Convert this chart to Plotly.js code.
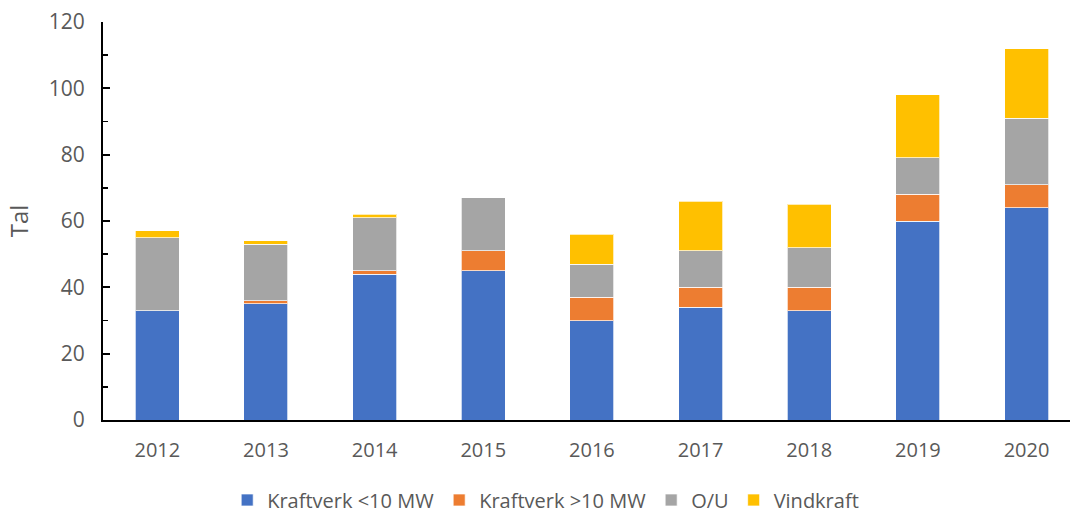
<!DOCTYPE html>
<html><head><meta charset="utf-8">
<script src="https://cdn.plot.ly/plotly-3.0.1.min.js"></script>
<style>html,body{margin:0;padding:0;background:#fff}#c{width:1070px;height:513px}</style>
</head><body><div id="c"></div>
<script>
const years = ['2012','2013','2014','2015','2016','2017','2018','2019','2020'];
const kraftverkUnder10 = [33,35,44,45,30,34,33,60,64];
const kraftverkOver10 = [0,1,1,6,7,6,7,8,7];
const ou = [22,17,16,16,10,11,12,11,20];
const vindkraft = [2,1,1,0,9,15,13,19,21];
const seriesNames = ['Kraftverk <10 MW','Kraftverk >10 MW','O/U','Vindkraft'];
const colors = ['#4472C4','#ED7D31','#A5A5A5','#FFC000'];
const yTicks = [0,20,40,60,80,100,120];

const data = [kraftverkUnder10,kraftverkOver10,ou,vindkraft].map((v,i)=>({
  type:'bar', x:years, y:v, name:seriesNames[i],
  marker:{color:colors[i], line:{color:'rgba(255,255,255,0.7)', width:1}},
  width:0.405, hoverinfo:'y+name'
}));

const font = "'Open Sans', sans-serif";
const layout = {
  width:1070, height:513,
  margin:{l:103, r:0, t:22, b:93, autoexpand:false},
  barmode:'stack',
  paper_bgcolor:'#fff', plot_bgcolor:'#fff',
  font:{family:font, color:'#595959', size:20},
  showlegend:true,
  legend:{orientation:'h', x:0.51, xanchor:'center', xref:'container', yref:'paper', y:-0.152, yanchor:'top',
    font:{size:20, color:'#595959'}, traceorder:'normal', itemwidth:30},
  xaxis:{type:'category', range:[-0.5,8.4], showline:true, linecolor:'#000', linewidth:2, automargin:false,
    ticks:'', showgrid:false, zeroline:false, tickfont:{size:20,color:'#595959'}, ticklabelstandoff:11, fixedrange:true},
  yaxis:{range:[0,120], tickvals:yTicks, ticktext:yTicks.map(String), showline:true, linecolor:'#000', linewidth:2, automargin:false,
    ticks:'inside', ticklen:7, tickwidth:2, tickcolor:'#000', showgrid:false, zeroline:false,
    minor:{dtick:10, ticks:'inside', ticklen:5, tickwidth:1.5, tickcolor:'#000'},
    tickfont:{size:21,color:'#595959'}, ticklabelstandoff:12,
    title:{text:'Tal', font:{size:24,color:'#595959'}, standoff:13}}
};
Plotly.newPlot('c', data, layout, {displayModeBar:false, staticPlot:true});
</script></body></html>
